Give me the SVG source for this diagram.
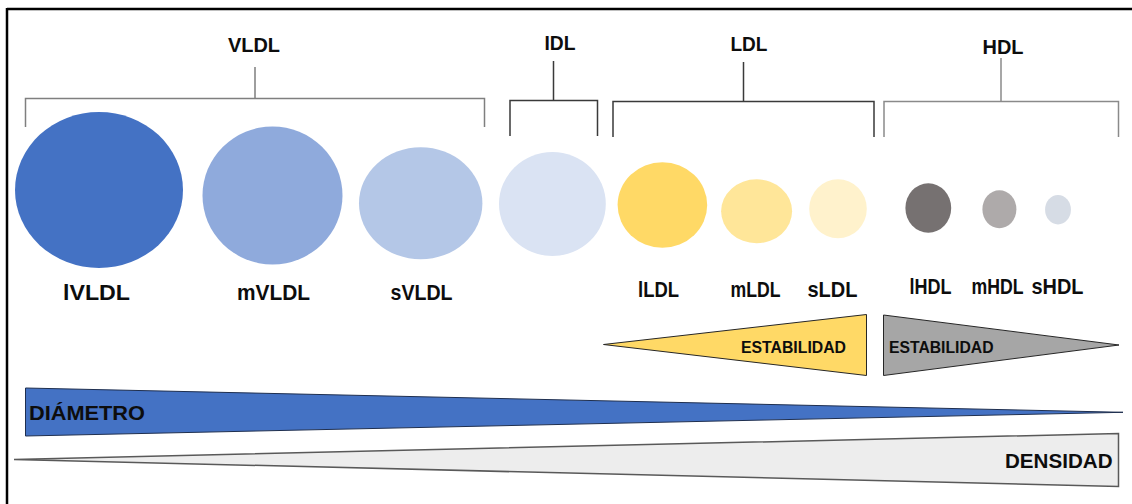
<svg xmlns="http://www.w3.org/2000/svg" width="1132" height="504" viewBox="0 0 1132 504">
  <style>
    text { font-family: "Liberation Sans", Arial, sans-serif; font-weight: bold; fill: #0d0d0d; }
    .top { font-size: 20px; text-anchor: middle; }
    .lbl { font-size: 22px; }
    .est { font-size: 17px; }
    .bar { font-size: 21px; }
    .br { fill: none; stroke-width: 1.5; }
    .tri { stroke: #262626; stroke-width: 1; stroke-linejoin: miter; }
  </style>
  <rect x="0" y="0" width="1132" height="504" fill="#ffffff"/>
  <g id="frame" stroke="#000000" stroke-width="2.5" fill="none">
    <line x1="7" y1="9" x2="1132" y2="9"/>
    <line x1="7" y1="8" x2="7" y2="504"/>
  </g>

  <g id="connectors">
    <path class="br" stroke="#7f7f7f" d="M25.5 127 V98.5 H484.5 V127 M255 67 V98.5"/>
    <path class="br" stroke="#3a3a3a" d="M510 136 V100.5 H597.5 V136 M553.5 61 V100.5"/>
    <path class="br" stroke="#3a3a3a" d="M613 137 V101.5 H874 V137 M743.5 62 V101.5"/>
    <path class="br" stroke="#8a8a8a" stroke-width="2" d="M884 137 V101.5 H1118.5 V137 M1001 58 V101.5"/>
  </g>

  <g id="group-labels">
    <text class="top" x="254" y="52" textLength="52" lengthAdjust="spacingAndGlyphs">VLDL</text>
    <text class="top" x="560" y="50" textLength="31" lengthAdjust="spacingAndGlyphs">IDL</text>
    <text class="top" x="749" y="51" textLength="37" lengthAdjust="spacingAndGlyphs">LDL</text>
    <text class="top" x="1003" y="54" textLength="41" lengthAdjust="spacingAndGlyphs">HDL</text>
  </g>

  <g id="lVLDL">
    <ellipse cx="99" cy="190" rx="84" ry="78" fill="#4472c4"/>
    <text class="lbl" x="63" y="300" textLength="67" lengthAdjust="spacingAndGlyphs">lVLDL</text>
  </g>
  <g id="mVLDL">
    <ellipse cx="272.5" cy="195.5" rx="70" ry="69" fill="#8faadc"/>
    <text class="lbl" x="237" y="300" textLength="73" lengthAdjust="spacingAndGlyphs">mVLDL</text>
  </g>
  <g id="sVLDL">
    <ellipse cx="420.7" cy="203.3" rx="61.7" ry="56" fill="#b4c7e7"/>
    <text class="lbl" x="390.5" y="300" textLength="62" lengthAdjust="spacingAndGlyphs">sVLDL</text>
  </g>
  <g id="IDL">
    <ellipse cx="552.4" cy="204" rx="53.4" ry="52" fill="#dae3f3"/>
  </g>
  <g id="lLDL">
    <ellipse cx="662.4" cy="205" rx="44.8" ry="42.7" fill="#ffd966"/>
    <text class="lbl" x="638" y="296.5" textLength="41" lengthAdjust="spacingAndGlyphs">lLDL</text>
  </g>
  <g id="mLDL">
    <ellipse cx="756.6" cy="211.3" rx="35.5" ry="32" fill="#ffe699"/>
    <text class="lbl" x="730.5" y="296.5" textLength="50" lengthAdjust="spacingAndGlyphs">mLDL</text>
  </g>
  <g id="sLDL">
    <ellipse cx="838" cy="208.8" rx="28.8" ry="29.5" fill="#fff2cc"/>
    <text class="lbl" x="807.5" y="296.5" textLength="50" lengthAdjust="spacingAndGlyphs">sLDL</text>
  </g>
  <g id="lHDL">
    <ellipse cx="928.3" cy="208" rx="22.9" ry="24.7" fill="#767171"/>
    <text class="lbl" x="909.5" y="294" textLength="42" lengthAdjust="spacingAndGlyphs">lHDL</text>
  </g>
  <g id="mHDL">
    <ellipse cx="999.4" cy="209.2" rx="17" ry="19" fill="#aeaaaa"/>
    <text class="lbl" x="971.5" y="294" textLength="52" lengthAdjust="spacingAndGlyphs">mHDL</text>
  </g>
  <g id="sHDL">
    <ellipse cx="1058" cy="209.7" rx="12.9" ry="14.7" fill="#d6dce5"/>
    <text class="lbl" x="1031.5" y="294" textLength="52" lengthAdjust="spacingAndGlyphs">sHDL</text>
  </g>

  <g id="estabilidad-ldl">
    <polygon class="tri" points="603.5,344.5 866.5,314.5 866.5,375.5" fill="#ffd966"/>
    <text class="est" x="741" y="352.5" textLength="105" lengthAdjust="spacingAndGlyphs">ESTABILIDAD</text>
  </g>
  <g id="estabilidad-hdl">
    <polygon class="tri" points="883.5,315 883.5,375.5 1119,345" fill="#a6a6a6"/>
    <text class="est" x="889" y="352.5" textLength="104.5" lengthAdjust="spacingAndGlyphs">ESTABILIDAD</text>
  </g>

  <g id="diametro">
    <polygon points="25.5,388 1123,412.3 25.5,436" fill="#4472c4" stroke="#1f2f4f" stroke-width="1"/>
    <text class="bar" x="29" y="419.5" textLength="116" lengthAdjust="spacingAndGlyphs">DIÁMETRO</text>
  </g>
  <g id="densidad">
    <polygon points="14,459.5 1118.5,433.5 1118.5,486.5" fill="#ededed" stroke="#595959" stroke-width="1.5"/>
    <text class="bar" x="1005" y="467.5" textLength="107.5" lengthAdjust="spacingAndGlyphs">DENSIDAD</text>
  </g>
</svg>
